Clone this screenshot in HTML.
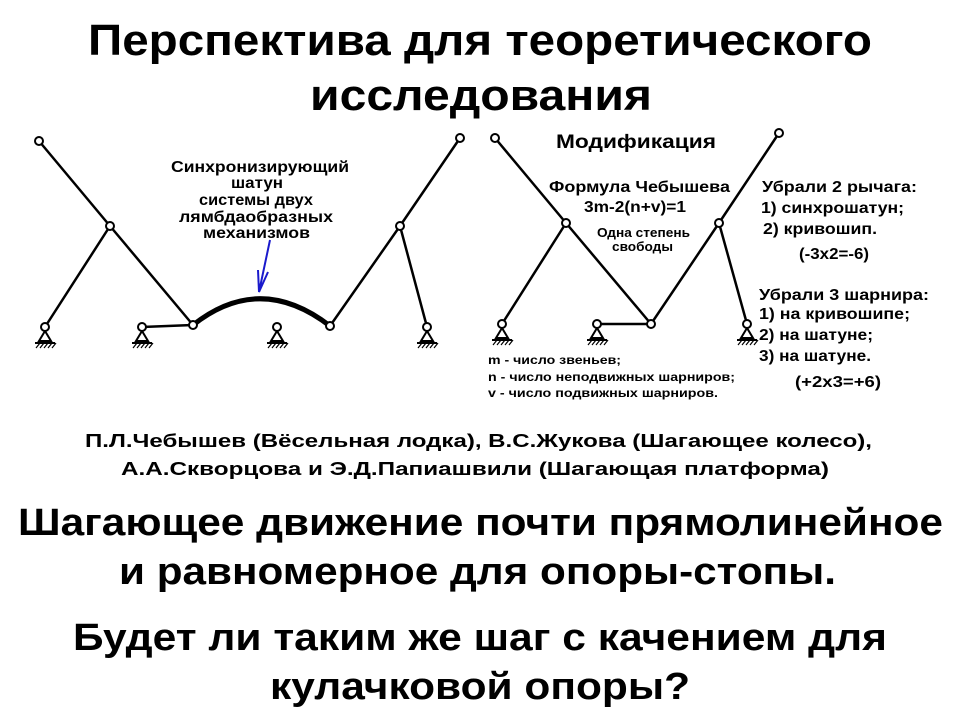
<!DOCTYPE html>
<html><head><meta charset="utf-8"><style>
body{margin:0;width:960px;height:720px;background:#fff;overflow:hidden}
</style></head><body>
<svg width="960" height="720" style="position:absolute;left:0;top:0" font-family="Liberation Sans, sans-serif" font-weight="bold">
<defs>
<g id="gr"><path d="M0,4 L-6,14 L6,14 Z" fill="#fff" stroke="#000" stroke-width="2"/><path d="M-10,16 L10,16" stroke="#000" stroke-width="2"/><path d="M-9,21 L-5,16 M-5,21 L-1,16 M-1,21 L3,16 M3,21 L7,16 M7,21 L11,16" stroke="#000" stroke-width="1.2"/></g>
</defs>
<g font-size="44" lengthAdjust="spacingAndGlyphs">
<text x="88" y="55" textLength="784" lengthAdjust="spacingAndGlyphs">Перспектива для теоретического</text>
<text x="310" y="110" textLength="342" lengthAdjust="spacingAndGlyphs">исследования</text>
</g>
<g stroke="#000" stroke-width="2.5" fill="none">
<path d="M39,141 L110,226 L193,325 M110,226 L45,327 M142,327 L193,325 M330,326 L400,226 L460,138 M400,226 L427,327"/>
<path d="M193,325 Q260,272 330,326" stroke-width="5"/>
<path d="M495,138 L566,223 L651,324 M566,223 L502,324 M597,324 L651,324 L719,223 L779,133 M719,223 L747,324"/>
</g>
<g fill="#fff" stroke="#000" stroke-width="2">
<circle cx="39" cy="141" r="4"/><circle cx="110" cy="226" r="4"/><circle cx="193" cy="325" r="4"/><circle cx="330" cy="326" r="4"/><circle cx="400" cy="226" r="4"/><circle cx="460" cy="138" r="4"/>
<circle cx="495" cy="138" r="4"/><circle cx="566" cy="223" r="4"/><circle cx="651" cy="324" r="4"/><circle cx="719" cy="223" r="4"/><circle cx="779" cy="133" r="4"/>
</g>
<use href="#gr" x="45" y="327"/><use href="#gr" x="142" y="327"/><use href="#gr" x="277" y="327"/><use href="#gr" x="427" y="327"/>
<use href="#gr" x="502" y="324"/><use href="#gr" x="597" y="324"/><use href="#gr" x="747" y="324"/>
<g fill="#fff" stroke="#000" stroke-width="2">
<circle cx="45" cy="327" r="4"/><circle cx="142" cy="327" r="4"/><circle cx="277" cy="327" r="4"/><circle cx="427" cy="327" r="4"/>
<circle cx="502" cy="324" r="4"/><circle cx="597" cy="324" r="4"/><circle cx="747" cy="324" r="4"/>
</g>
<path d="M270,240 L259,292 M258,270 L259,292 L268,272" stroke="#1a1acc" stroke-width="2" fill="none"/>
<g font-size="16">
<text x="171" y="172" textLength="178" lengthAdjust="spacingAndGlyphs">Синхронизирующий</text>
<text x="231" y="188" textLength="52" lengthAdjust="spacingAndGlyphs">шатун</text>
<text x="199" y="205" textLength="114" lengthAdjust="spacingAndGlyphs">системы двух</text>
<text x="179" y="222" textLength="154" lengthAdjust="spacingAndGlyphs">лямбдаобразных</text>
<text x="203" y="238" textLength="107" lengthAdjust="spacingAndGlyphs">механизмов</text>
</g>
<text x="556" y="148" font-size="19" textLength="160" lengthAdjust="spacingAndGlyphs">Модификация</text>
<g font-size="16">
<text x="549" y="192" textLength="181" lengthAdjust="spacingAndGlyphs">Формула Чебышева</text>
<text x="584" y="212" textLength="102" lengthAdjust="spacingAndGlyphs">3m-2(n+v)=1</text>
<text x="762" y="192" textLength="155" lengthAdjust="spacingAndGlyphs">Убрали 2 рычага:</text>
<text x="761" y="213" textLength="143" lengthAdjust="spacingAndGlyphs">1) синхрошатун;</text>
<text x="763" y="234" textLength="114" lengthAdjust="spacingAndGlyphs">2) кривошип.</text>
<text x="799" y="259" textLength="70" lengthAdjust="spacingAndGlyphs">(-3х2=-6)</text>
<text x="759" y="300" textLength="170" lengthAdjust="spacingAndGlyphs">Убрали 3 шарнира:</text>
<text x="759" y="319" textLength="151" lengthAdjust="spacingAndGlyphs">1) на кривошипе;</text>
<text x="759" y="340" textLength="114" lengthAdjust="spacingAndGlyphs">2) на шатуне;</text>
<text x="759" y="361" textLength="112" lengthAdjust="spacingAndGlyphs">3) на шатуне.</text>
<text x="795" y="387" textLength="86" lengthAdjust="spacingAndGlyphs">(+2х3=+6)</text>
</g>
<g font-size="13">
<text x="597" y="237" textLength="93" lengthAdjust="spacingAndGlyphs">Одна степень</text>
<text x="612" y="251" textLength="61" lengthAdjust="spacingAndGlyphs">свободы</text>
</g>
<g font-size="12">
<text x="488" y="364" textLength="133" lengthAdjust="spacingAndGlyphs">m - число звеньев;</text>
<text x="488" y="381" textLength="247" lengthAdjust="spacingAndGlyphs">n  - число неподвижных шарниров;</text>
<text x="488" y="397" textLength="230" lengthAdjust="spacingAndGlyphs">v  - число подвижных шарниров.</text>
</g>
<g font-size="18">
<text x="85" y="447" textLength="787" lengthAdjust="spacingAndGlyphs">П.Л.Чебышев (Вёсельная лодка), В.С.Жукова (Шагающее колесо),</text>
<text x="121" y="475" textLength="708" lengthAdjust="spacingAndGlyphs">А.А.Скворцова и Э.Д.Папиашвили (Шагающая платформа)</text>
</g>
<g font-size="38">
<text x="18" y="535" textLength="925" lengthAdjust="spacingAndGlyphs">Шагающее движение почти прямолинейное</text>
<text x="119" y="584" textLength="717" lengthAdjust="spacingAndGlyphs">и равномерное для опоры-стопы.</text>
<text x="73" y="650" textLength="814" lengthAdjust="spacingAndGlyphs">Будет ли таким же шаг с качением для</text>
<text x="270" y="699" textLength="420" lengthAdjust="spacingAndGlyphs">кулачковой опоры?</text>
</g>
</svg>
</body></html>
